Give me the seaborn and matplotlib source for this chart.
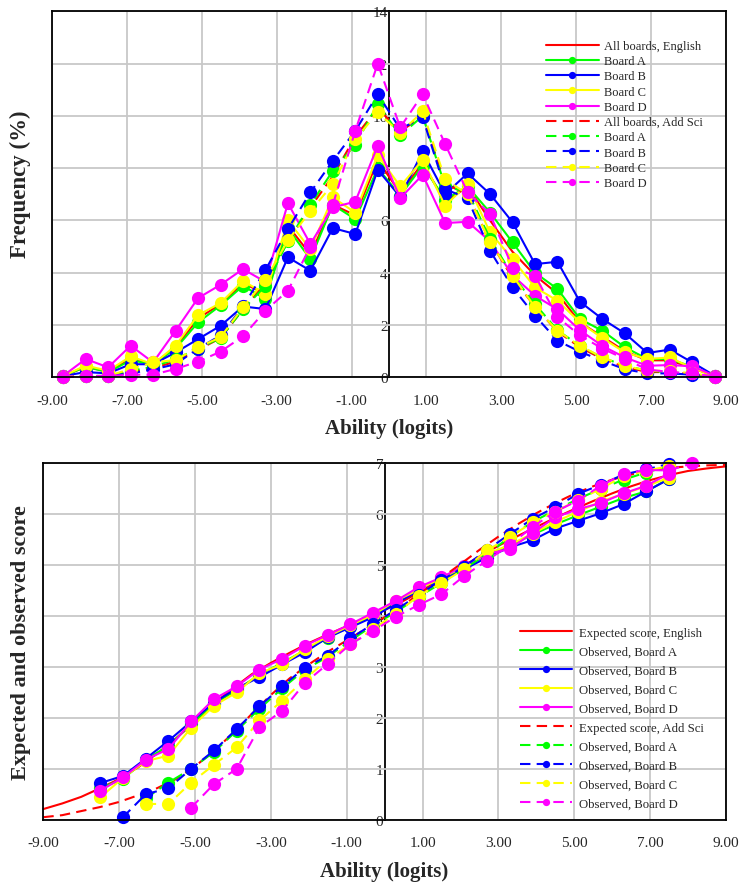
import numpy as np
import pandas as pd
import matplotlib
matplotlib.use("Agg")
import matplotlib.pyplot as plt
import seaborn as sns

# ---------------- data: ability distributions (frequency, %) ----------------
freq_x = [-8.7, -8.1, -7.5, -6.9, -6.3, -5.7, -5.1, -4.5, -3.9, -3.3,
          -2.7, -2.1, -1.5, -0.9, -0.3, 0.3, 0.9, 1.5, 2.1, 2.7,
          3.3, 3.9, 4.5, 5.1, 5.7, 6.3, 6.9, 7.5, 8.1, 8.7]

eng_all = [0.05, 0.40, 0.22, 0.70, 0.50, 1.15, 2.25, 2.80, 3.60, 3.20,
           5.80, 4.70, 6.60, 6.20, 8.30, 7.05, 8.20, 6.70, 7.30, 6.00,
           4.80, 3.90, 3.20, 2.10, 1.55, 1.00, 0.65, 0.65, 0.35, 0.05]
eng_a = [0.05, 0.40, 0.20, 0.65, 0.50, 1.10, 2.10, 2.75, 3.50, 3.00,
         5.70, 4.52, 6.60, 6.05, 8.00, 6.95, 8.10, 6.80, 7.30, 6.30,
         5.16, 4.00, 3.38, 2.23, 1.78, 1.15, 0.70, 0.70, 0.40, 0.05]
eng_b = [0.05, 0.20, 0.15, 0.50, 0.50, 0.95, 1.46, 1.97, 2.71, 2.61,
         4.59, 4.08, 5.71, 5.48, 7.94, 6.90, 8.64, 7.01, 7.80, 7.01,
         5.93, 4.33, 4.42, 2.89, 2.23, 1.68, 0.93, 1.06, 0.57, 0.06]
eng_c = [0.05, 0.45, 0.25, 0.80, 0.50, 1.21, 2.38, 2.84, 3.69, 3.18,
         6.00, 4.90, 6.88, 6.30, 8.50, 7.30, 8.32, 6.56, 7.40, 5.54,
         4.52, 3.44, 2.93, 2.10, 1.50, 0.95, 0.70, 0.76, 0.35, 0.05]
eng_d = [0.06, 0.70, 0.38, 1.21, 0.57, 1.78, 3.03, 3.54, 4.14, 3.65,
         6.66, 5.10, 6.50, 6.72, 8.86, 6.85, 7.75, 5.90, 5.95, 5.20,
         3.90, 3.12, 2.60, 1.80, 1.20, 0.76, 0.44, 0.47, 0.42, 0.06]

sci_all = [0.02, 0.05, 0.05, 0.20, 0.35, 0.60, 1.05, 1.50, 2.60, 3.60,
           5.20, 6.50, 7.70, 9.20, 10.30, 9.40, 10.00, 7.40, 7.00, 5.20,
           3.80, 2.70, 1.75, 1.15, 0.70, 0.40, 0.20, 0.20, 0.12, 0.03]
sci_a = [0.02, 0.05, 0.05, 0.25, 0.40, 0.70, 1.10, 1.50, 2.60, 3.50,
         5.20, 6.60, 7.90, 8.90, 10.45, 9.25, 10.00, 7.30, 7.10, 5.30,
         3.90, 2.80, 1.80, 1.20, 0.75, 0.45, 0.25, 0.20, 0.12, 0.03]
sci_b = [0.02, 0.05, 0.05, 0.15, 0.30, 0.50, 1.10, 1.60, 2.70, 4.10,
         5.67, 7.07, 8.28, 9.43, 10.83, 9.50, 9.94, 7.20, 6.84, 4.84,
         3.44, 2.36, 1.40, 0.98, 0.63, 0.31, 0.15, 0.15, 0.10, 0.03]
sci_c = [0.02, 0.05, 0.05, 0.32, 0.57, 0.66, 1.15, 1.53, 2.68, 3.72,
         5.24, 6.35, 7.39, 9.10, 10.13, 9.35, 10.17, 7.58, 7.00, 5.16,
         3.89, 2.68, 1.78, 1.21, 0.76, 0.44, 0.25, 0.25, 0.15, 0.03]
sci_d = [0.02, 0.05, 0.05, 0.10, 0.10, 0.32, 0.60, 0.98, 1.57, 2.55,
         3.31, 5.00, 6.60, 9.43, 12.00, 9.56, 10.83, 8.92, 7.07, 6.24,
         4.20, 3.89, 2.30, 1.60, 1.10, 0.70, 0.30, 0.20, 0.15, 0.03]

# ---------------- data: expected and observed scores ----------------
exp_x = [-9.0, -8.5, -8.0, -7.5, -7.0, -6.5, -6.0, -5.5, -5.0, -4.5,
         -4.0, -3.5, -3.0, -2.5, -2.0, -1.5, -1.0, -0.5, 0.0, 0.5,
         1.0, 1.5, 2.0, 2.5, 3.0, 3.5, 4.0, 4.5, 5.0, 5.5,
         6.0, 6.5, 7.0, 7.5, 8.0, 8.5, 9.0]
exp_eng = [0.21, 0.32, 0.45, 0.62, 0.80, 1.03, 1.30, 1.60, 1.92, 2.28,
           2.58, 2.86, 3.08, 3.28, 3.47, 3.64, 3.80, 3.96, 4.12, 4.30,
           4.50, 4.72, 4.95, 5.17, 5.38, 5.57, 5.75, 5.93, 6.10, 6.26,
           6.41, 6.55, 6.67, 6.77, 6.85, 6.90, 6.94]
exp_sci = [0.05, 0.09, 0.17, 0.25, 0.35, 0.48, 0.62, 0.80, 1.05, 1.35,
           1.70, 2.08, 2.45, 2.78, 3.05, 3.30, 3.52, 3.75, 3.98, 4.22,
           4.48, 4.75, 5.02, 5.30, 5.56, 5.80, 6.02, 6.22, 6.40, 6.55,
           6.68, 6.78, 6.86, 6.91, 6.94, 6.96, 6.97]

score_x = [-7.5, -6.9, -6.3, -5.7, -5.1, -4.5, -3.9, -3.3, -2.7, -2.1,
           -1.5, -0.9, -0.3, 0.3, 0.9, 1.5, 2.1, 2.7, 3.3, 3.9,
           4.5, 5.1, 5.7, 6.3, 6.9, 7.5, 8.1]
nan = np.nan
obs_eng_a = [0.62, 0.80, 1.18, 1.45, 1.88, 2.27, 2.55, 2.85, 3.08, 3.33,
             3.57, 3.80, 4.02, 4.28, 4.52, 4.72, 4.95, 5.20, 5.38, 5.60,
             5.80, 5.98, 6.15, 6.32, 6.45, 6.70, nan]
obs_eng_b = [0.72, 0.86, 1.20, 1.55, 1.93, 2.30, 2.58, 2.80, 3.05, 3.29,
             3.58, 3.78, 3.98, 4.25, 4.50, 4.70, 4.92, 5.15, 5.35, 5.49,
             5.72, 5.87, 6.02, 6.20, 6.45, 6.69, nan]
obs_eng_c = [0.44, 0.82, 1.15, 1.26, 1.81, 2.24, 2.50, 2.88, 3.05, 3.35,
             3.60, 3.82, 4.03, 4.30, 4.52, 4.75, 4.97, 5.22, 5.40, 5.62,
             5.85, 6.05, 6.25, 6.40, 6.55, 6.72, nan]
obs_eng_d = [0.57, 0.83, 1.18, 1.39, 1.93, 2.37, 2.62, 2.95, 3.16, 3.42,
             3.63, 3.84, 4.07, 4.30, 4.57, 4.76, 4.99, 5.22, 5.32, 5.63,
             5.94, 6.10, 6.22, 6.41, 6.56, 6.80, nan]
obs_sci_a = [nan, nan, 0.42, 0.73, 1.00, 1.33, 1.75, 2.18, 2.58, 2.95,
             3.20, 3.52, 3.82, 4.08, 4.38, 4.65, 4.93, 5.22, 5.55, 5.85,
             6.08, 6.30, 6.50, 6.68, 6.82, 6.95, nan]
obs_sci_b = [nan, 0.05, 0.50, 0.62, 1.00, 1.36, 1.78, 2.23, 2.62, 2.99,
             3.22, 3.56, 3.85, 4.12, 4.42, 4.70, 4.97, 5.30, 5.61, 5.91,
             6.14, 6.40, 6.58, 6.78, 6.88, 6.99, nan]
obs_sci_c = [nan, nan, 0.31, 0.31, 0.73, 1.08, 1.42, 1.95, 2.34, 2.76,
             3.15, 3.45, 3.75, 4.05, 4.40, 4.65, 4.92, 5.29, 5.55, 5.84,
             6.05, 6.28, 6.50, 6.75, 6.85, 6.95, nan]
obs_sci_d = [nan, nan, nan, nan, 0.24, 0.70, 1.00, 1.82, 2.14, 2.69,
             3.06, 3.45, 3.71, 3.99, 4.22, 4.43, 4.79, 5.09, 5.40, 5.75,
             6.05, 6.27, 6.56, 6.79, 6.87, 6.86, 7.00]

x_ticks = [-9, -7, -5, -3, -1, 1, 3, 5, 7, 9]

# ---------------- styling ----------------
sns.set_style("white")
plt.rcParams["font.family"] = ["Liberation Serif", "DejaVu Serif"]
plt.rcParams["axes.unicode_minus"] = False

RED, GREEN, BLUE, YELLOW, MAGENTA = "#FF0000", "#00FF00", "#0000FF", "#FFFF00", "#FF00FF"
DASH = (0, (5, 3))
LW = 1.5
MS = 9.5

fig = plt.figure(figsize=(7.43, 8.87), dpi=100)
ax1 = fig.add_axes([0.0700, 0.5735, 0.9071, 0.4126])
ax2 = fig.add_axes([0.0583, 0.0747, 0.9187, 0.4018])


def draw(ax, x, y, color, dashed, marker, label):
    kw = dict(color=color, linewidth=LW, label=label, clip_on=False)
    if dashed:
        kw["linestyle"] = DASH
    if marker:
        kw.update(marker="o", markersize=MS, markeredgewidth=0)
    df = pd.DataFrame({"x": x, "y": y}).dropna()
    sns.lineplot(data=df, x="x", y="y", ax=ax, sort=False, **kw)


def frame(ax, ymax, ystep):
    ax.set_xlim(-9, 9)
    ax.set_ylim(0, ymax)
    ax.set_xticks(x_ticks)
    ax.set_xticklabels([f"{v:.2f}" for v in x_ticks])
    ax.set_yticks(np.arange(0, ymax + 0.01, ystep))
    ax.tick_params(axis="x", length=0, labelsize=11, pad=12)
    ax.tick_params(axis="y", length=0, labelleft=False)
    ax.grid(True, color="#C8C8C8", linewidth=1.3)
    ax.set_axisbelow(True)
    for s in ax.spines.values():
        s.set_color("black")
        s.set_linewidth(1.3)
    # value axis drawn through ability = 0
    sec = ax.secondary_yaxis(0.5)
    yt = np.arange(0, ymax + 0.01, ystep)
    sec.set_yticks(yt)
    sec.set_yticklabels([f"{v:g}" for v in yt])
    sec.tick_params(axis="y", length=0, labelsize=11, pad=1,
                    left=True, right=False, labelleft=True, labelright=False)
    for s in sec.spines.values():
        s.set_color("black")
        s.set_linewidth(1.3)
    ax.set_xlabel("Ability (logits)", fontsize=15, fontweight="bold", labelpad=8)


# ---- top: frequency distributions ----
top_series = [
    (eng_all, RED, False, False, "All boards, English"),
    (eng_a, GREEN, False, True, "Board A"),
    (eng_b, BLUE, False, True, "Board B"),
    (eng_c, YELLOW, False, True, "Board C"),
    (eng_d, MAGENTA, False, True, "Board D"),
    (sci_all, RED, True, False, "All boards, Add Sci"),
    (sci_a, GREEN, True, True, "Board A"),
    (sci_b, BLUE, True, True, "Board B"),
    (sci_c, YELLOW, True, True, "Board C"),
    (sci_d, MAGENTA, True, True, "Board D"),
]
for y, c, d, m, lab in top_series:
    draw(ax1, freq_x, y, c, d, m, lab)
frame(ax1, 14, 2)
ax1.set_ylabel("Frequency (%)", fontsize=16.5, fontweight="bold")
ax1.yaxis.set_label_coords(-0.031, 0.53)
ax1.legend(loc="upper left", bbox_to_anchor=(0.723, 0.939), frameon=False,
           fontsize=9, handlelength=4.3, handletextpad=0.4,
           labelspacing=0.26, borderpad=0, markerscale=0.55)

# ---- bottom: expected and observed scores ----
bottom_series = [
    (exp_x, exp_eng, RED, False, False, "Expected score, English"),
    (score_x, obs_eng_a, GREEN, False, True, "Observed, Board A"),
    (score_x, obs_eng_b, BLUE, False, True, "Observed, Board B"),
    (score_x, obs_eng_c, YELLOW, False, True, "Observed, Board C"),
    (score_x, obs_eng_d, MAGENTA, False, True, "Observed, Board D"),
    (exp_x, exp_sci, RED, True, False, "Expected score, Add Sci"),
    (score_x, obs_sci_a, GREEN, True, True, "Observed, Board A"),
    (score_x, obs_sci_b, BLUE, True, True, "Observed, Board B"),
    (score_x, obs_sci_c, YELLOW, True, True, "Observed, Board C"),
    (score_x, obs_sci_d, MAGENTA, True, True, "Observed, Board D"),
]
for x, y, c, d, m, lab in bottom_series:
    draw(ax2, x, y, c, d, m, lab)
frame(ax2, 7, 1)
ax2.set_ylabel("Expected and observed score", fontsize=16, fontweight="bold")
ax2.yaxis.set_label_coords(-0.018, 0.5)
ax2.legend(loc="upper left", bbox_to_anchor=(0.689, 0.56), frameon=False,
           fontsize=9.2, handlelength=4.1, handletextpad=0.5,
           labelspacing=0.55, borderpad=0, markerscale=0.55)

fig.savefig("out.png", dpi=100)
